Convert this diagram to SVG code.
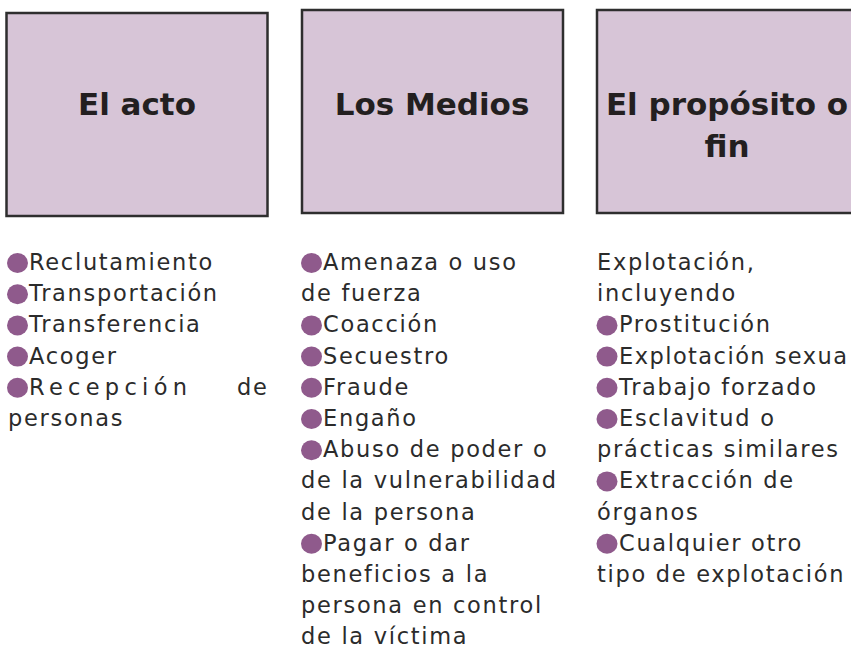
<svg xmlns="http://www.w3.org/2000/svg" width="851" height="656" viewBox="0 0 851 656">
<style>
.box{fill:#d7c5d7;stroke:#2e2e2e;stroke-width:2.5}
.h{font-family:"DejaVu Sans","Liberation Sans",sans-serif;font-weight:bold;font-size:31px;fill:#231f20;text-anchor:middle}
.t{font-family:"DejaVu Sans","Liberation Sans",sans-serif;font-size:22.5px;fill:#2b2b2b;letter-spacing:1.7px}
.b{fill:#8f5a8c}
</style>
<rect width="851" height="656" fill="#ffffff"/>
<g id="node-acto">
<rect class="box" x="6.5" y="13" width="261" height="203"/>
<text class="h" x="137" y="115">El acto</text>
</g>
<g id="node-medios">
<rect class="box" x="302" y="10" width="261" height="203"/>
<text class="h" x="432" y="115">Los Medios</text>
</g>
<g id="node-fin">
<rect class="box" x="597" y="10" width="262" height="203"/>
<text class="h" x="727" y="115">El propósito o</text>
<text class="h" x="727" y="157">fin</text>
</g>
<g id="list-acto">
<ellipse class="b" cx="17.5" cy="263" rx="10.5" ry="10"/>
<text class="t" x="29" y="270">Reclutamiento</text>
<ellipse class="b" cx="17.5" cy="294.2" rx="10.5" ry="10"/>
<text class="t" x="29" y="301.2">Transportación</text>
<ellipse class="b" cx="17.5" cy="325.4" rx="10.5" ry="10"/>
<text class="t" x="29" y="332.4">Transferencia</text>
<ellipse class="b" cx="17.5" cy="356.6" rx="10.5" ry="10"/>
<text class="t" x="29" y="363.6">Acoger</text>
<ellipse class="b" cx="17.5" cy="387.8" rx="10.5" ry="10"/>
<text class="t" x="29" y="394.8" style="letter-spacing:0" textLength="158" lengthAdjust="spacing">Recepción</text>
<text class="t" x="237" y="394.8">de</text>
<text class="t" x="8" y="426">personas</text>
</g>
<g id="list-medios">
<ellipse class="b" cx="311.5" cy="263" rx="10.5" ry="10"/>
<text class="t" x="323" y="270">Amenaza o uso</text>
<text class="t" x="301" y="301.2">de fuerza</text>
<ellipse class="b" cx="311.5" cy="325.4" rx="10.5" ry="10"/>
<text class="t" x="323" y="332.4">Coacción</text>
<ellipse class="b" cx="311.5" cy="356.6" rx="10.5" ry="10"/>
<text class="t" x="323" y="363.6">Secuestro</text>
<ellipse class="b" cx="311.5" cy="387.8" rx="10.5" ry="10"/>
<text class="t" x="323" y="394.8">Fraude</text>
<ellipse class="b" cx="311.5" cy="419" rx="10.5" ry="10"/>
<text class="t" x="323" y="426">Engaño</text>
<ellipse class="b" cx="311.5" cy="450.2" rx="10.5" ry="10"/>
<text class="t" x="323" y="457.2">Abuso de poder o</text>
<text class="t" x="301" y="488.4">de la vulnerabilidad</text>
<text class="t" x="301" y="519.6">de la persona</text>
<ellipse class="b" cx="311.5" cy="543.8" rx="10.5" ry="10"/>
<text class="t" x="323" y="550.8">Pagar o dar</text>
<text class="t" x="301" y="582">beneficios a la</text>
<text class="t" x="301" y="613.2">persona en control</text>
<text class="t" x="301" y="644.4">de la víctima</text>
</g>
<g id="list-fin">
<text class="t" x="597" y="270">Explotación,</text>
<text class="t" x="597" y="301.2">incluyendo</text>
<ellipse class="b" cx="607" cy="325.4" rx="10.5" ry="10"/>
<text class="t" x="619" y="332.4">Prostitución</text>
<ellipse class="b" cx="607" cy="356.6" rx="10.5" ry="10"/>
<text class="t" x="619" y="363.6" style="letter-spacing:0" textLength="228" lengthAdjust="spacing">Explotación sexua</text>
<ellipse class="b" cx="607" cy="387.8" rx="10.5" ry="10"/>
<text class="t" x="619" y="394.8">Trabajo forzado</text>
<ellipse class="b" cx="607" cy="419" rx="10.5" ry="10"/>
<text class="t" x="619" y="426">Esclavitud o</text>
<text class="t" x="597" y="457.2">prácticas similares</text>
<ellipse class="b" cx="607" cy="481.4" rx="10.5" ry="10"/>
<text class="t" x="619" y="488.4">Extracción de</text>
<text class="t" x="597" y="519.6">órganos</text>
<ellipse class="b" cx="607" cy="543.8" rx="10.5" ry="10"/>
<text class="t" x="619" y="550.8">Cualquier otro</text>
<text class="t" x="597" y="582">tipo de explotación</text>
</g>
<g id="connectors"></g>
</svg>
